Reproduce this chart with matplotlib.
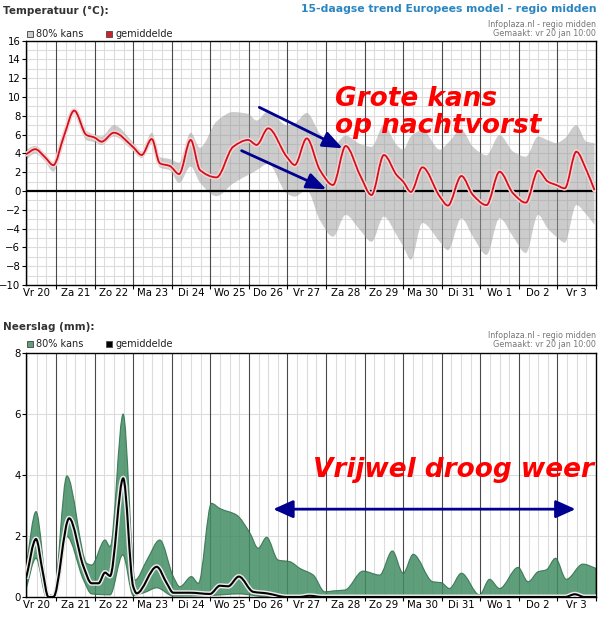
# 15-daagse trend: temperatuur en neerslag

import matplotlib.pyplot as plt
from matplotlib.path import Path
from matplotlib.patches import PathPatch, Rectangle
import numpy as np

plt.rcParams['font.family'] = ['DejaVu Sans']

# x = dagen sinds vr 20 jan 00:00
day_labels = ['Vr 20', 'Za 21', 'Zo 22', 'Ma 23', 'Di 24', 'Wo 25', 'Do 26', 'Vr 27',
              'Za 28', 'Zo 29', 'Ma 30', 'Di 31', 'Wo 1', 'Do 2', 'Vr 3']

temp_x = [0.22, 0.46, 0.70, 0.93, 1.20, 1.47, 1.79, 1.99, 2.18, 2.50, 2.99, 3.22, 3.48,
          3.69, 3.95, 4.19, 4.49, 4.73, 5.16, 5.59, 5.98, 6.20, 6.50, 6.98, 7.19, 7.50,
          7.84, 8.18, 8.51, 8.88, 9.18, 9.50, 9.83, 10.00, 10.20, 10.50, 10.95, 11.16,
          11.51, 11.81, 12.16, 12.50, 12.85, 13.18, 13.50, 13.75, 13.97, 14.19, 14.49,
          14.75, 14.96]
temp_mean = [3.9, 4.45, 3.65, 2.75, 5.8, 8.55, 5.95, 5.7, 5.25, 6.2, 4.7, 3.83, 5.53,
             2.95, 2.66, 1.8, 5.43, 2.23, 1.45, 4.7, 5.43, 4.9, 6.67, 3.65, 2.77, 5.6,
             2.23, 0.64, 4.79, 1.7, -0.43, 3.83, 1.7, 1.0, -0.1, 2.52, -0.6, -1.55,
             1.6, -0.43, -1.5, 2.05, -0.25, -1.24, 2.16, 1.0, 0.64, 0.29, 4.18,
             2.23, 0.1]
temp_hi = [4.4, 4.8, 4.0, 3.1, 6.3, 8.75, 6.4, 6.0, 5.8, 7.0, 5.2, 4.2, 6.2,
           3.6, 3.4, 3.0, 6.2, 4.6, 7.4, 8.4, 8.2, 7.5, 8.5, 7.0, 7.2, 8.3,
           6.1, 4.8, 5.9, 5.0, 4.7, 7.0, 4.9, 4.4, 5.8, 6.5, 4.4, 5.1,
           6.5, 4.7, 3.8, 5.95, 4.2, 3.65, 5.8, 5.4, 5.1, 5.6, 7.0,
           5.25, 5.1]
temp_lo = [3.3, 4.0, 3.2, 2.05, 5.3, 8.2, 5.4, 5.2, 4.9, 5.8, 4.3, 3.5, 5.0,
           2.5, 2.2, 0.85, 2.6, 0.9, -0.55, 0.8, 1.7, 2.2, 2.9, -0.25, -0.6, 0.1,
           -3.1, -4.86, -2.55, -4.15, -5.4, -2.73, -4.7, -5.9, -7.3, -3.4, -5.4, -6.3,
           -2.9, -4.86, -6.8, -2.9, -4.86, -6.6, -2.55, -4.0, -4.86, -5.5, -1.5,
           -2.5, -3.6]

rain_x = [0.22, 0.48, 0.65, 0.80, 0.93, 1.34, 1.71, 1.92, 2.10, 2.27, 2.40, 2.74, 3.00,
          3.09, 3.61, 3.87, 4.04, 4.47, 4.99, 5.25, 5.46, 5.74, 6.11, 6.46, 6.98, 7.30,
          7.58, 7.90, 14.20, 14.45, 14.70, 15.00]
rain_mean = [0.6, 1.9, 0.85, 0.0, 0.0, 2.58, 1.0, 0.45, 0.45, 0.8, 0.69, 3.89, 0.34,
             0.12, 0.99, 0.45, 0.14, 0.14, 0.1, 0.37, 0.35, 0.67, 0.17, 0.12, 0.0, 0.0,
             0.04, 0.0, 0.0, 0.09, 0.0, 0.0]

rain_hi_x = [0.22, 0.48, 0.80, 0.93, 1.28, 1.80, 1.92, 2.27, 2.40, 2.74, 3.05, 3.35, 3.69,
             4.04, 4.21, 4.51, 4.69, 5.03, 5.25, 5.68, 6.03, 6.24, 6.46, 6.76, 7.06, 7.32,
             7.67, 7.97, 8.18, 8.49, 8.96, 9.39, 9.72, 10.00, 10.26, 10.77, 10.99, 11.20,
             11.51, 11.98, 12.24, 12.50, 12.98, 13.24, 13.50, 13.71, 13.95, 14.23, 14.66,
             15.00]
rain_hi = [1.0, 2.8, 0.1, 0.05, 3.97, 1.1, 1.05, 1.87, 1.65, 6.0, 0.56, 1.2, 1.87,
           0.67, 0.34, 0.67, 0.45, 3.07, 2.9, 2.69, 2.09, 1.6, 1.96, 1.21, 1.16, 0.94,
           0.72, 0.17, 0.2, 0.23, 0.85, 0.72, 1.51, 0.78, 1.4, 0.5, 0.47, 0.28,
           0.78, 0.07, 0.58, 0.28, 0.97, 0.5, 0.83, 0.89, 1.27, 0.58, 1.08, 0.94]

rain_lo_x = [0.22, 0.48, 0.75, 0.93, 1.28, 1.71, 1.92, 2.40, 2.73, 3.00, 3.30, 3.61, 4.04,
             5.00, 5.74, 6.50, 15.00]
rain_lo = [0.25, 1.27, 0.0, 0.0, 1.98, 0.56, 0.1, 0.07, 1.38, 0.05, 0.15, 0.3, 0.03,
           0.05, 0.1, 0.0, 0.0]


def segments(xs, ys):
    # monotone cubic (pchip-achtig) als bezier-segmenten
    xs = np.asarray(xs, float)
    ys = np.asarray(ys, float)
    h = np.diff(xs)
    d = np.diff(ys) / h
    m = np.zeros(len(xs))
    m[0], m[-1] = d[0], d[-1]
    for i in range(1, len(xs) - 1):
        if d[i - 1] * d[i] > 0:
            w1 = 2 * h[i] + h[i - 1]
            w2 = h[i] + 2 * h[i - 1]
            m[i] = (w1 + w2) / (w1 / d[i - 1] + w2 / d[i])
    segs = []
    for i in range(len(xs) - 1):
        p0 = (xs[i], ys[i])
        c1 = (xs[i] + h[i] / 3, ys[i] + m[i] * h[i] / 3)
        c2 = (xs[i + 1] - h[i] / 3, ys[i + 1] - m[i + 1] * h[i] / 3)
        p1 = (xs[i + 1], ys[i + 1])
        segs.append((p0, c1, c2, p1))
    return segs


def line_path(xs, ys):
    segs = segments(xs, ys)
    verts = [segs[0][0]]
    for s in segs:
        verts += [s[1], s[2], s[3]]
    codes = [Path.MOVETO] + [Path.CURVE4] * (len(verts) - 1)
    return Path(verts, codes)


def band_path(xh, yh, xl, yl):
    up = segments(xh, yh)
    lo = segments(xl, yl)
    verts = [up[0][0]]
    for s in up:
        verts += [s[1], s[2], s[3]]
    codes = [Path.MOVETO] + [Path.CURVE4] * (len(verts) - 1)
    verts.append(lo[-1][3])
    codes.append(Path.LINETO)
    for s in reversed(lo):
        verts += [s[2], s[1], s[0]]
        codes += [Path.CURVE4] * 3
    verts.append(verts[0])
    codes.append(Path.CLOSEPOLY)
    return Path(verts, codes)


W, H = 600, 618
fig = plt.figure(figsize=(W / 100, H / 100), dpi=100)


def fx(px):
    return px / W


def fy(py):
    return 1 - py / H


def setup_axes(ax, hgrid):
    ax.set_xlim(0.22, 15.0)
    for v in np.arange(0.25, 15, 0.25):
        if abs(v - round(v)) > 0.01:
            ax.axvline(v, color='#dcdcdc', lw=0.8, zorder=0.5)
    for v in range(1, 15):
        ax.axvline(v, color='#4a4a4a', lw=0.8, zorder=0.6)
    for v in hgrid:
        ax.axhline(v, color='#dcdcdc', lw=0.8, zorder=0.4)
    ax.set_xticks(range(1, 16))
    ax.set_xticklabels([])
    ax.set_xticks(np.arange(0.5, 15, 1), minor=True)
    ax.set_xticklabels(day_labels, minor=True)
    ax.tick_params(axis='x', which='major', length=3, width=0.8)
    ax.tick_params(axis='x', which='minor', length=0, labelsize=7.3, pad=2)
    ax.tick_params(axis='y', length=3, width=0.8, labelsize=7.3, pad=1)
    for s in ax.spines.values():
        s.set_color('black')
        s.set_linewidth(1)


# --- temperatuur ---
ax1 = fig.add_axes([fx(26), fy(285), fx(570), (285 - 40.6) / H])
ax1.set_ylim(-10, 16)
ax1.set_yticks(range(-10, 17, 2))
setup_axes(ax1, range(-9, 16))
ax1.add_patch(PathPatch(band_path(temp_x, temp_hi, temp_x, temp_lo),
                        facecolor='#9a9a9a', alpha=0.5, edgecolor='none', zorder=1))
ax1.axhline(0, color='black', lw=1.6, zorder=2)
ax1.add_patch(PathPatch(line_path(temp_x, temp_mean), fill=False,
                        edgecolor='#f6d4d4', lw=3.4, zorder=3, capstyle='round'))
ax1.add_patch(PathPatch(line_path(temp_x, temp_mean), fill=False,
                        edgecolor='#d0101c', lw=1.3, zorder=4))

ax1.text(8.23, 9.05, 'Grote kans', color='#ff0000', fontsize=19, fontweight='bold',
         style='italic', ha='left', va='baseline', zorder=6)
ax1.text(8.23, 6.15, 'op nachtvorst', color='#ff0000', fontsize=19, fontweight='bold',
         style='italic', ha='left', va='baseline', zorder=6)
arrow = dict(arrowstyle='-|>,head_length=1.0,head_width=0.4', color='#000090',
             lw=2.0, mutation_scale=12, shrinkA=0, shrinkB=0)
ax1.annotate('', xy=(8.43, 4.54), xytext=(6.27, 8.9), arrowprops=arrow, zorder=5)
ax1.annotate('', xy=(8.01, 0.18), xytext=(5.81, 4.29), arrowprops=arrow, zorder=5)

# --- neerslag ---
ax2 = fig.add_axes([fx(26), fy(597), fx(570), 244 / H])
ax2.set_ylim(0, 8)
ax2.set_yticks(range(0, 9, 2))
setup_axes(ax2, [2, 4, 6])
ax2.add_patch(PathPatch(band_path(rain_hi_x, rain_hi, rain_lo_x, rain_lo),
                        facecolor='#428d63', alpha=0.85, edgecolor='#2f6f4b',
                        lw=0.8, zorder=1))
ax2.add_patch(PathPatch(line_path(rain_x, rain_mean), fill=False,
                        edgecolor='#ececec', lw=3.6, zorder=3))
ax2.add_patch(PathPatch(line_path(rain_x, rain_mean), fill=False,
                        edgecolor='black', lw=1.5, zorder=4))

ax2.text(7.66, 3.94, 'Vrijwel droog weer', color='#ff0000', fontsize=19,
         fontweight='bold', style='italic', ha='left', va='baseline', zorder=6)
arrow2 = dict(arrowstyle='<|-|>,head_length=1.0,head_width=0.45', color='#000090',
              lw=2.0, mutation_scale=12, shrinkA=0, shrinkB=0)
ax2.annotate('', xy=(14.47, 2.88), xytext=(6.63, 2.88), arrowprops=arrow2, zorder=5)

# --- koppen en legenda ---
fig.text(fx(3), fy(11), 'Temperatuur (°C):', fontsize=7.5, fontweight='bold',
         color='#333333', va='center')
fig.text(fx(3), fy(327), 'Neerslag (mm):', fontsize=7.5, fontweight='bold',
         color='#333333', va='center')
fig.text(fx(597), fy(9.5), '15-daagse trend Europees model - regio midden',
         fontsize=7.8, fontweight='bold', color='#2a86c0', ha='right', va='center')
for y0 in (24.5, 335.5):
    fig.text(fx(596), fy(y0), 'Infoplaza.nl - regio midden', fontsize=5.8,
             color='#777777', ha='right', va='center')
    fig.text(fx(596), fy(y0 + 8.5), 'Gemaakt: vr 20 jan 10:00', fontsize=5.8,
             color='#777777', ha='right', va='center')

legend_items = [(34, '#cccccc', '#d21f2b'), (344, '#5f9f7d', '#000000')]
for y0, c_band, c_mean in legend_items:
    fig.add_artist(Rectangle((fx(27), fy(y0 + 3)), 6 / W, 6 / H, facecolor=c_band,
                             edgecolor='#555555', lw=0.7, transform=fig.transFigure))
    fig.text(fx(36), fy(y0), '80% kans', fontsize=7, va='center', color='#222222')
    fig.add_artist(Rectangle((fx(106), fy(y0 + 3)), 6 / W, 6 / H, facecolor=c_mean,
                             edgecolor='#555555', lw=0.7, transform=fig.transFigure))
    fig.text(fx(115), fy(y0), 'gemiddelde', fontsize=7, va='center', color='#222222')

plt.savefig('out.png', dpi=100)
